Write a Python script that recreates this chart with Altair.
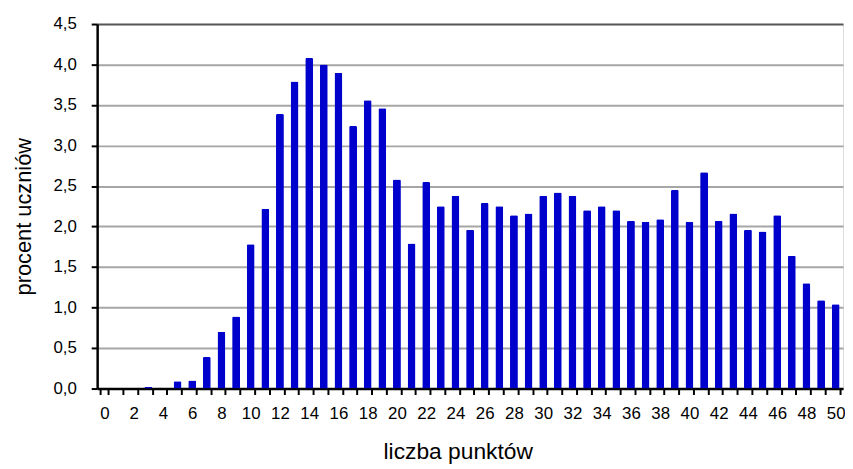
import altair as alt
import pandas as pd

points = list(range(0, 51))
percent = [0.0, 0.0, 0.0, 0.02, 0.0, 0.09, 0.10, 0.39, 0.70, 0.89,
           1.78, 2.22, 3.39, 3.79, 4.08, 4.00, 3.90, 3.24, 3.56, 3.46,
           2.58, 1.79, 2.55, 2.25, 2.38, 1.96, 2.29, 2.25, 2.14, 2.16,
           2.38, 2.42, 2.38, 2.20, 2.25, 2.20, 2.07, 2.06, 2.09, 2.45,
           2.06, 2.67, 2.07, 2.16, 1.96, 1.94, 2.14, 1.64, 1.30, 1.09,
           1.04]
y_ticks = [0.0, 0.5, 1.0, 1.5, 2.0, 2.5, 3.0, 3.5, 4.0, 4.5]

df = pd.DataFrame({"pkt": points, "proc": percent})

FONT = "Liberation Sans"

chart = alt.Chart(df).mark_bar(
    color="#0000CC",
    cornerRadiusTopLeft=1.5,
    cornerRadiusTopRight=1.5,
).encode(
    x=alt.X(
        "pkt:O",
        sort=points,
        scale=alt.Scale(paddingInner=0.46, paddingOuter=0.23),
        axis=alt.Axis(
            title="liczba punktów",
            labelAngle=0,
            labelExpr="datum.value % 2 == 0 ? datum.label : ''",
            labelFont=FONT,
            labelFontSize=17,
            labelColor="#000000",
            labelPadding=11,
            labelOverlap=False,
            tickBand="extent",
            tickColor="#000000",
            tickWidth=2,
            tickSize=6,
            domainColor="#000000",
            domainWidth=2.5,
            grid=False,
            titleFont=FONT,
            titleFontSize=23,
            titleFontWeight="normal",
            titleColor="#000000",
            titlePadding=20,
            titleX=364,
        ),
    ),
    y=alt.Y(
        "proc:Q",
        scale=alt.Scale(domain=[0, 4.5], nice=False, zero=True),
        axis=alt.Axis(
            title="procent uczniów",
            values=y_ticks,
            labelExpr="replace(format(datum.value, '.1f'), '.', ',')",
            labelFont=FONT,
            labelFontSize=17,
            labelColor="#000000",
            labelPadding=15,
            tickColor="#000000",
            tickWidth=2,
            tickSize=6,
            domainColor="#000000",
            domainWidth=2.5,
            grid=True,
            gridColor=alt.condition("datum.value >= 4.5", alt.value("#555555"), alt.value("#a6a6a6")),
            gridWidth=2,
            titleFont=FONT,
            titleFontSize=22,
            titleFontWeight="normal",
            titleColor="#000000",
            titlePadding=18,
            titleY=194,
        ),
    ),
).properties(
    width=753,
    height=368,
    autosize=alt.AutoSizeParams(type="none"),
    padding={"left": 90, "top": 14, "right": 2, "bottom": 76},
).configure_view(
    stroke="#555555",
    strokeWidth=2,
).configure(background="white")

chart.save("out.html", embed_options={"renderer": "svg", "actions": False})
